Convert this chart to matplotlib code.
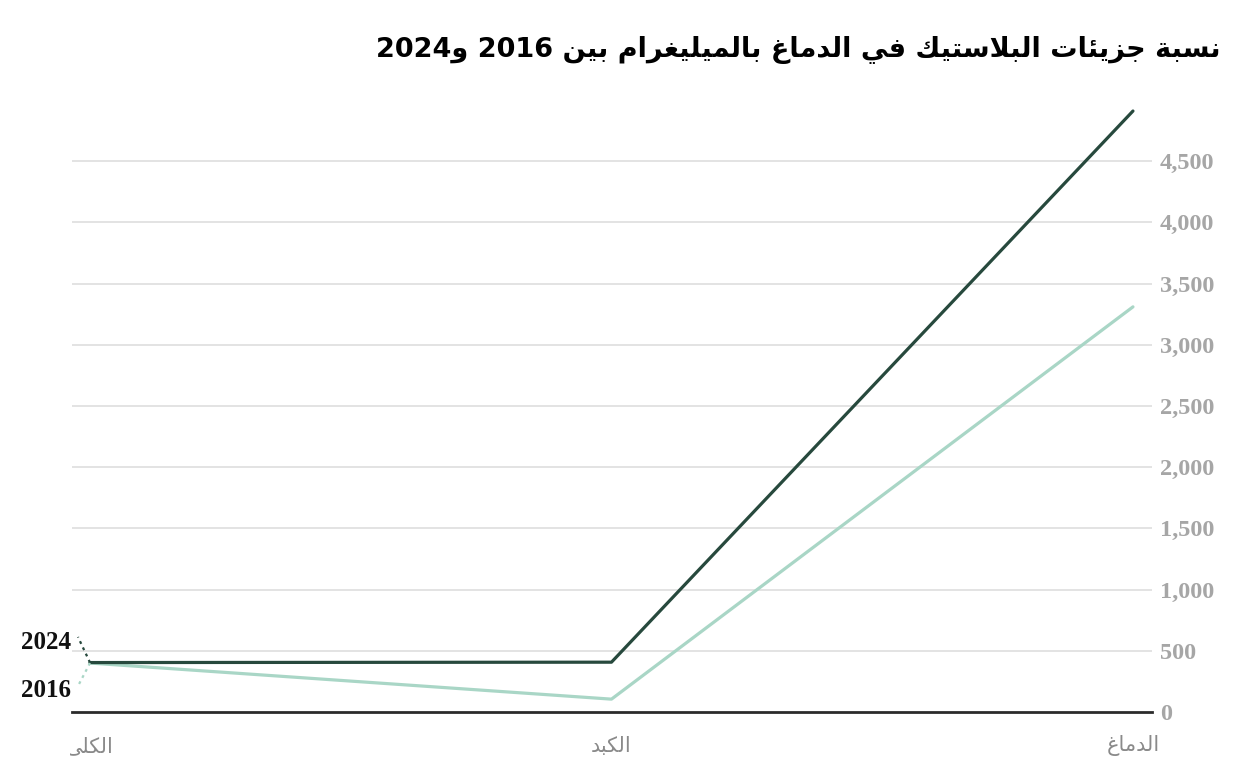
import matplotlib
matplotlib.use("Agg")
import matplotlib.pyplot as plt
import matplotlib.transforms as mtransforms
from matplotlib.transforms import Bbox

# ---------------- data ----------------
categories = ["الكلى", "الكبد", "الدماغ"]
series_names = ["2024", "2016"]
values_2024 = [404, 407, 4910]
values_2016 = [400, 105, 3310]
y_ticks = [0, 500, 1000, 1500, 2000, 2500, 3000, 3500, 4000, 4500]
title = "نسبة جزيئات البلاستيك في الدماغ بالميليغرام بين 2016 و2024"

# ---------------- minimal Arabic shaping ----------------
FORMS = {
    "\u0627": ("\uFE8D", "\uFE8E", None, None),
    "\u0628": ("\uFE8F", "\uFE90", "\uFE91", "\uFE92"),
    "\u0629": ("\uFE93", "\uFE94", None, None),
    "\u062A": ("\uFE95", "\uFE96", "\uFE97", "\uFE98"),
    "\u062C": ("\uFE9D", "\uFE9E", "\uFE9F", "\uFEA0"),
    "\u062F": ("\uFEA9", "\uFEAA", None, None),
    "\u0631": ("\uFEAD", "\uFEAE", None, None),
    "\u0632": ("\uFEAF", "\uFEB0", None, None),
    "\u0633": ("\uFEB1", "\uFEB2", "\uFEB3", "\uFEB4"),
    "\u063A": ("\uFECD", "\uFECE", "\uFECF", "\uFED0"),
    "\u0641": ("\uFED1", "\uFED2", "\uFED3", "\uFED4"),
    "\u0643": ("\uFED9", "\uFEDA", "\uFEDB", "\uFEDC"),
    "\u0644": ("\uFEDD", "\uFEDE", "\uFEDF", "\uFEE0"),
    "\u0645": ("\uFEE1", "\uFEE2", "\uFEE3", "\uFEE4"),
    "\u0646": ("\uFEE5", "\uFEE6", "\uFEE7", "\uFEE8"),
    "\u0648": ("\uFEED", "\uFEEE", None, None),
    "\u0649": ("\uFEEF", "\uFEF0", None, None),
    "\u064A": ("\uFEF1", "\uFEF2", "\uFEF3", "\uFEF4"),
    "\u0626": ("\uFE89", "\uFE8A", "\uFE8B", "\uFE8C"),
}


def shape(text):
    chars = []
    i = 0
    while i < len(text):
        if text[i] == "\u0644" and i + 1 < len(text) and text[i + 1] == "\u0627":
            chars.append("LA")
            i += 2
        else:
            chars.append(text[i])
            i += 1

    def joins_next(c):
        if c == "LA":
            return False
        f = FORMS.get(c)
        return f is not None and f[2] is not None

    def is_letter(c):
        return c == "LA" or c in FORMS

    out = []
    for k, c in enumerate(chars):
        prev = chars[k - 1] if k > 0 else None
        nxt = chars[k + 1] if k + 1 < len(chars) else None
        link_prev = prev is not None and joins_next(prev)
        if c == "LA":
            out.append("\uFEFC" if link_prev else "\uFEFB")
            continue
        if c not in FORMS:
            out.append(c)
            continue
        f = FORMS[c]
        link_next = nxt is not None and is_letter(nxt) and f[2] is not None
        if link_prev and link_next:
            out.append(f[3])
        elif link_prev:
            out.append(f[1])
        elif link_next:
            out.append(f[2])
        else:
            out.append(f[0])
    s = "".join(out)[::-1]
    res, run = [], []
    for ch in s:
        if ch.isdigit() or (run and ch == ","):
            run.append(ch)
        else:
            if run:
                res.append("".join(run[::-1]))
                run = []
            res.append(ch)
    if run:
        res.append("".join(run[::-1]))
    return "".join(res)


# ---------------- figure ----------------
W, H = 1240, 772
fig = plt.figure(figsize=(W / 100, H / 100), dpi=100)
ax = fig.add_axes([72 / W, 1 - 712 / H, 1080 / W, 612 / H])

dark = "#27493d"
light = "#a9d6c6"
x = list(range(len(categories)))

ax.plot(x, values_2016, color=light, lw=2.3, solid_capstyle="round", zorder=3)
ax.plot(x, values_2024, color=dark, lw=2.3, solid_capstyle="round", zorder=4)

ax.set_xlim(-0.0345, 2.0365)
ax.set_ylim(0, 5000)

for s in ax.spines.values():
    s.set_visible(False)

ax.set_yticks(y_ticks)
ax.set_yticklabels([f"{v:,}" for v in y_ticks])
ax.yaxis.tick_right()
ax.tick_params(axis="y", length=0, pad=5.8, labelsize=17.5, labelcolor="#a6a6a6")
for lab in ax.get_yticklabels():
    lab.set_fontfamily("Liberation Serif")
    lab.set_fontweight("bold")
    lab.set_horizontalalignment("left")

for v in y_ticks[1:]:
    ax.axhline(v, color="#e3e3e3", lw=1.4, zorder=1)
ax.axhline(0, color="#2b2b2b", lw=2.0, zorder=2, clip_on=False)

ax.set_xticks([])
trans = mtransforms.blended_transform_factory(ax.transData, fig.transFigure)
clipbox = Bbox.from_extents(70, 0, W, H)
for xi, c in zip(x, categories):
    t = fig.text(xi, 1 - 746 / H, shape(c), transform=trans, ha="center", va="center",
                 fontsize=15, color="#8a8a8a", family="DejaVu Sans")
    t.set_clip_box(clipbox)
    t.set_clip_on(True)

# series labels with dotted connectors
ax.plot([0, -0.023], [values_2024[0], 613], color=dark, lw=1.6, ls=(0, (1.3, 1.8)), clip_on=False, zorder=5)
ax.plot([0, -0.023], [values_2016[0], 212], color=light, lw=1.6, ls=(0, (1.3, 1.8)), clip_on=False, zorder=5)
ax.text(-0.037, 565, series_names[0], ha="right", va="center", fontsize=18, fontweight="bold",
        family="Liberation Serif", color="#111111", clip_on=False)
ax.text(-0.037, 172, series_names[1], ha="right", va="center", fontsize=18, fontweight="bold",
        family="Liberation Serif", color="#111111", clip_on=False)

fig.text(1220 / W, 1 - 50 / H, shape(title), ha="right", va="center", fontsize=19.5,
         fontweight="bold", family="DejaVu Sans", color="#000000")

fig.savefig("out.png", dpi=100)
